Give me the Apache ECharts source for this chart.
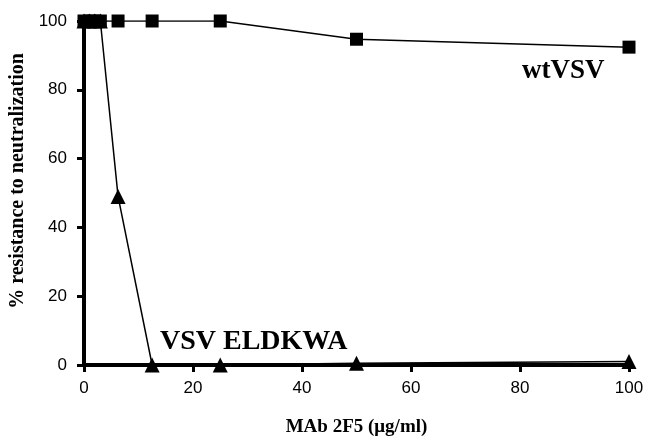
<!DOCTYPE html>
<html>
<head>
<meta charset="utf-8">
<script src="https://cdn.jsdelivr.net/npm/echarts@6/dist/echarts.min.js"></script>
<style>
html,body{margin:0;padding:0;background:#fff;}
#chart{width:647px;height:442px;}
</style>
</head>
<body>
<div id="chart"></div>
<script>
// MAb 2F5 concentrations (µg/ml)
const concentrations = [0, 1, 2, 3, 6.25, 12.5, 25, 50, 100];
// % resistance to neutralization
const wtVSV = [100, 100, 100, 100, 100, 100, 100, 94.7, 92.4];
const vsvELDKWA = [100, 100, 100, 100, 49, 0, 0, 0.5, 1];
const xTicks = [0, 20, 40, 60, 80, 100];
const yTicks = [0, 20, 40, 60, 80, 100];

const chart = echarts.init(document.getElementById('chart'), null, {renderer: 'canvas'});
const pair = (xs, ys) => xs.map((x, i) => [x, ys[i]]);
const serif = '"Liberation Serif", "Times New Roman", serif';
const sans = '"Liberation Sans", Arial, sans-serif';

chart.setOption({
  animation: false,
  backgroundColor: '#fff',
  grid: {left: 84, right: 18, top: 21, bottom: 65, containLabel: false},
  xAxis: {
    type: 'value', min: xTicks[0], max: xTicks[xTicks.length - 1], interval: 20,
    name: 'MAb 2F5 (μg/ml)', nameLocation: 'middle', nameGap: 53,
    nameTextStyle: {fontFamily: serif, fontWeight: 'bold', fontSize: 19, color: '#000'},
    axisLine: {show: true, onZero: false, lineStyle: {color: '#000', width: 4}},
    axisTick: {show: true, length: 7, lineStyle: {color: '#000', width: 3}},
    axisLabel: {fontFamily: sans, fontSize: 17, color: '#000', margin: 15},
    splitLine: {show: false}
  },
  yAxis: {
    type: 'value', min: yTicks[0], max: yTicks[yTicks.length - 1], interval: 20,
    axisLine: {show: true, onZero: false, lineStyle: {color: '#000', width: 4}},
    axisTick: {show: true, length: 7, lineStyle: {color: '#000', width: 3}},
    axisLabel: {fontFamily: sans, fontSize: 17, color: '#000', margin: 17},
    splitLine: {show: false}
  },
  series: [
    {
      name: 'VSV ELDKWA', type: 'line', data: pair(concentrations, vsvELDKWA),
      symbol: 'triangle', symbolSize: 15, z: 2,
      lineStyle: {color: '#000', width: 1.5},
      itemStyle: {color: '#000'}
    },
    {
      name: 'wtVSV', type: 'line', data: pair(concentrations, wtVSV),
      symbol: 'rect', symbolSize: 13, z: 3,
      lineStyle: {color: '#000', width: 1.5},
      itemStyle: {color: '#000'}
    }
  ],
  graphic: [
    {type: 'text', x: 18, y: 181, rotation: Math.PI / 2,
     style: {text: '% resistance to neutralization', font: 'bold 20px ' + serif, fill: '#000',
             align: 'center', verticalAlign: 'middle'}},
    {type: 'text', left: 522, top: 58, style: {text: 'wtVSV', font: 'bold 27px ' + serif, fill: '#000'}},
    {type: 'text', left: 160, top: 328, style: {text: 'VSV ELDKWA', font: 'bold 28px ' + serif, fill: '#000'}}
  ]
});
</script>
</body>
</html>
